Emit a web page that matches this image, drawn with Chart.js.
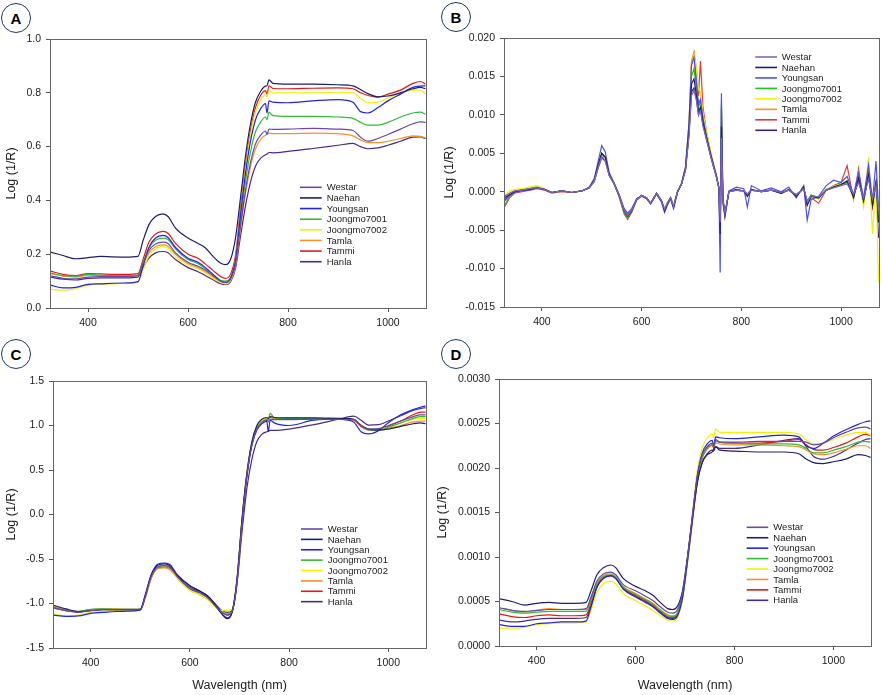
<!DOCTYPE html>
<html><head><meta charset="utf-8">
<script src="https://cdn.jsdelivr.net/npm/chart.js@4.4.1/dist/chart.umd.min.js"></script>
<style>
html,body{margin:0;padding:0;background:#fff;}
body{width:882px;height:695px;position:relative;overflow:hidden;font-family:"Liberation Sans",Arial,sans-serif;}
canvas{position:absolute;}
.badge{position:absolute;z-index:5;width:28px;height:28px;border:1.6px solid #1f3461;border-radius:50%;font:bold 15px "Liberation Sans",Arial,sans-serif;color:#000;display:flex;align-items:center;justify-content:center;box-sizing:content-box;background:#fff;}
</style></head><body>
<canvas id="cA" width="441" height="330" style="left:0;top:0"></canvas>
<canvas id="cB" width="441" height="330" style="left:441px;top:0"></canvas>
<canvas id="cC" width="441" height="365" style="left:0;top:330px"></canvas>
<canvas id="cD" width="452" height="365" style="left:430px;top:330px"></canvas>
<div class="badge" style="left:1px;top:3px">A</div>
<div class="badge" style="left:441px;top:2px">B</div>
<div class="badge" style="left:1px;top:339px">C</div>
<div class="badge" style="left:441px;top:339px">D</div>
<script>
const names = ['Westar','Naehan','Youngsan','Joongmo7001','Joongmo7002','Tamla','Tammi','Hanla'];
const colors = ['#6b48a8','#1e1e6e','#2323e0','#33bb33','#f2f200','#f5922a','#e41a1a','#4a2a8a'];
const colorsB = ['#8466b8','#1e1e7a','#4f4ff0','#22c022','#f2f200','#f5922a','#e03c3c','#3e1e80'];
const xTicks = [400,600,800,1000];
const wl = [325,350,375,400,425,450,475,500,510,522,535,550,560,575,600,620,635,650,665,675,685,695,705,715,725,735,745,755,758,762,770,800,850,900,930,945,960,980,1000,1025,1050,1065,1075];
const wlB = [325,335,345,360,375,390,405,420,440,460,480,495,505,513,520,527,535,545,555,565,572,580,590,600,610,618,630,640,646,652,658,664,672,680,688,695,700,705,710,714,718,723,730,740,750,755,757.5,760,763,767,775,790,805,812,820,840,860,880,895,910,925,932,940,955,970,985,1000,1012,1025,1035,1045,1055,1063,1070,1075];

// Panel A
const aWestar = [0.12,0.11,0.108,0.115,0.117,0.117,0.117,0.12,0.165,0.215,0.238,0.245,0.24,0.205,0.17,0.155,0.14,0.12,0.1,0.095,0.107,0.165,0.305,0.437,0.54,0.61,0.642,0.658,0.645,0.665,0.664,0.665,0.668,0.665,0.66,0.635,0.62,0.63,0.645,0.665,0.685,0.692,0.69];
const aNaehan = [0.208,0.195,0.183,0.187,0.192,0.19,0.189,0.192,0.25,0.31,0.34,0.35,0.34,0.297,0.26,0.24,0.223,0.192,0.167,0.161,0.18,0.26,0.41,0.565,0.685,0.765,0.805,0.825,0.826,0.848,0.835,0.832,0.832,0.83,0.826,0.812,0.797,0.785,0.788,0.8,0.815,0.82,0.815];
const aYoungsan = [0.085,0.075,0.077,0.088,0.09,0.092,0.093,0.098,0.155,0.225,0.26,0.27,0.262,0.225,0.185,0.17,0.15,0.125,0.1,0.095,0.11,0.175,0.345,0.5,0.62,0.7,0.74,0.76,0.725,0.77,0.765,0.763,0.77,0.775,0.765,0.73,0.725,0.745,0.77,0.795,0.82,0.825,0.826];
const aJoongmo7001 = [0.13,0.12,0.118,0.125,0.122,0.12,0.12,0.122,0.17,0.225,0.252,0.26,0.255,0.22,0.18,0.165,0.145,0.125,0.103,0.1,0.112,0.175,0.33,0.47,0.58,0.655,0.69,0.71,0.7,0.728,0.715,0.712,0.712,0.71,0.705,0.69,0.68,0.68,0.69,0.71,0.725,0.728,0.72];
const aJoongmo7002 = [0.07,0.066,0.072,0.085,0.088,0.09,0.092,0.096,0.14,0.195,0.22,0.228,0.222,0.19,0.16,0.145,0.13,0.11,0.095,0.09,0.105,0.175,0.35,0.515,0.645,0.73,0.772,0.792,0.785,0.808,0.8,0.8,0.8,0.802,0.8,0.78,0.763,0.765,0.78,0.8,0.81,0.81,0.795];
const aTamla = [0.128,0.118,0.115,0.122,0.12,0.118,0.118,0.12,0.16,0.205,0.228,0.235,0.23,0.2,0.165,0.15,0.135,0.115,0.095,0.09,0.101,0.157,0.296,0.425,0.525,0.592,0.626,0.642,0.645,0.65,0.648,0.648,0.65,0.648,0.64,0.625,0.615,0.615,0.62,0.63,0.64,0.638,0.632];
const aTammi = [0.137,0.125,0.12,0.128,0.127,0.125,0.125,0.128,0.18,0.245,0.275,0.285,0.278,0.24,0.2,0.185,0.163,0.14,0.117,0.11,0.125,0.195,0.37,0.53,0.66,0.745,0.79,0.808,0.795,0.826,0.816,0.815,0.817,0.818,0.815,0.8,0.79,0.784,0.795,0.81,0.835,0.842,0.832];
const aHanla = [0.115,0.107,0.104,0.11,0.112,0.112,0.112,0.115,0.15,0.185,0.205,0.21,0.205,0.18,0.15,0.135,0.12,0.105,0.09,0.087,0.097,0.146,0.267,0.38,0.468,0.527,0.556,0.57,0.572,0.578,0.577,0.582,0.593,0.605,0.612,0.6,0.592,0.595,0.605,0.62,0.635,0.636,0.63];

// Panel B
const bWestar = [-0.0006,-0.0002,0.0001,0.0002,0.0004,0.0005,0.0003,-0.0001,0.0001,-0.0001,0.0001,0.0005,0.0014,0.0032,0.0046,0.0040,0.0021,0.0010,-0.0005,-0.0024,-0.0031,-0.0024,-0.0010,-0.0005,-0.0008,-0.0015,-0.0002,-0.0012,-0.0023,-0.0014,-0.0008,-0.0019,0.0000,0.0010,0.0028,0.0072,0.0125,0.0132,0.0118,0.0100,0.0105,0.0085,0.0068,0.0042,0.0019,0.0005,-0.0040,0.0070,-0.0008,-0.0028,0.0000,0.0002,0.0001,-0.0003,0.0002,0.0000,0.0002,-0.0001,0.0002,-0.0004,0.0004,-0.0012,-0.0005,-0.0007,0.0002,0.0005,0.0008,0.0010,-0.0003,0.0012,-0.0008,0.0016,-0.0010,0.0008,-0.0025];
const bNaehan = [-0.0008,-0.0004,0.0000,0.0002,0.0003,0.0005,0.0003,-0.0001,0.0001,-0.0001,0.0001,0.0005,0.0015,0.0035,0.0050,0.0045,0.0022,0.0010,-0.0005,-0.0025,-0.0032,-0.0025,-0.0010,-0.0005,-0.0008,-0.0015,-0.0002,-0.0012,-0.0025,-0.0015,-0.0008,-0.0020,0.0000,0.0010,0.0030,0.0080,0.0140,0.0147,0.0125,0.0105,0.0110,0.0090,0.0070,0.0044,0.0020,0.0005,-0.0055,0.0085,-0.0010,-0.0030,0.0000,0.0003,0.0001,-0.0006,0.0003,0.0000,0.0002,-0.0002,0.0003,-0.0006,0.0006,-0.0018,-0.0006,-0.0008,0.0002,0.0006,0.0009,0.0014,-0.0008,0.0018,-0.0012,0.0022,-0.0018,0.0012,-0.0040];
const bYoungsan = [-0.0010,-0.0005,-0.0001,0.0001,0.0002,0.0005,0.0003,-0.0001,0.0001,-0.0001,0.0001,0.0006,0.0017,0.0040,0.0060,0.0052,0.0025,0.0011,-0.0004,-0.0022,-0.0028,-0.0022,-0.0009,-0.0005,-0.0009,-0.0016,-0.0003,-0.0014,-0.0027,-0.0017,-0.0009,-0.0022,-0.0001,0.0010,0.0032,0.0088,0.0165,0.0175,0.0140,0.0115,0.0120,0.0095,0.0072,0.0045,0.0020,0.0004,-0.0105,0.0128,-0.0015,-0.0032,0.0001,0.0006,0.0004,-0.0020,0.0008,0.0001,0.0005,0.0000,0.0006,-0.0008,0.0008,-0.0037,-0.0010,-0.0006,0.0008,0.0015,0.0012,0.0020,-0.0004,0.0025,-0.0008,0.0035,-0.0012,0.0040,-0.0020];
const bJoongmo7001 = [-0.0018,-0.0006,0.0000,0.0002,0.0004,0.0006,0.0003,-0.0001,0.0001,-0.0001,0.0001,0.0005,0.0015,0.0036,0.0050,0.0045,0.0022,0.0010,-0.0006,-0.0027,-0.0034,-0.0026,-0.0010,-0.0005,-0.0008,-0.0015,-0.0002,-0.0012,-0.0023,-0.0014,-0.0008,-0.0019,0.0000,0.0011,0.0030,0.0082,0.0150,0.0160,0.0135,0.0110,0.0118,0.0095,0.0072,0.0044,0.0020,0.0005,-0.0060,0.0115,-0.0010,-0.0030,0.0000,0.0002,0.0001,-0.0006,0.0002,0.0000,0.0002,-0.0001,0.0002,-0.0004,0.0004,-0.0013,-0.0004,-0.0009,0.0003,0.0006,0.0010,0.0012,-0.0006,0.0015,-0.0012,0.0020,-0.0015,0.0010,-0.0030];
const bJoongmo7002 = [-0.0005,0.0001,0.0003,0.0004,0.0006,0.0008,0.0004,-0.0001,0.0001,-0.0001,0.0001,0.0005,0.0014,0.0034,0.0047,0.0042,0.0021,0.0010,-0.0005,-0.0025,-0.0032,-0.0025,-0.0010,-0.0005,-0.0008,-0.0015,-0.0002,-0.0012,-0.0022,-0.0013,-0.0008,-0.0018,0.0000,0.0011,0.0032,0.0088,0.0165,0.0178,0.0160,0.0135,0.0130,0.0102,0.0078,0.0048,0.0021,0.0005,-0.0050,0.0080,-0.0010,-0.0032,0.0000,0.0002,0.0001,-0.0004,0.0002,0.0000,0.0003,-0.0001,0.0002,-0.0005,0.0005,-0.0015,-0.0008,-0.0009,0.0003,0.0007,0.0010,0.0015,-0.0010,0.0025,-0.0020,0.0045,-0.0055,0.0015,-0.0118];
const bTamla = [-0.0007,-0.0002,0.0001,0.0003,0.0004,0.0006,0.0003,-0.0001,0.0001,-0.0001,0.0001,0.0005,0.0014,0.0033,0.0046,0.0042,0.0021,0.0010,-0.0005,-0.0026,-0.0033,-0.0025,-0.0010,-0.0005,-0.0008,-0.0015,-0.0002,-0.0012,-0.0023,-0.0014,-0.0008,-0.0019,0.0000,0.0011,0.0032,0.0090,0.0170,0.0182,0.0160,0.0132,0.0128,0.0100,0.0076,0.0046,0.0021,0.0005,-0.0045,0.0070,-0.0010,-0.0030,0.0000,0.0002,0.0001,-0.0003,0.0002,0.0000,0.0002,-0.0001,0.0002,-0.0004,0.0004,-0.0014,-0.0005,-0.0008,0.0003,0.0006,0.0009,0.0013,-0.0006,0.0016,-0.0010,0.0020,-0.0014,0.0012,-0.0028];
const bTammi = [-0.0020,-0.0008,-0.0002,0.0000,0.0002,0.0004,0.0002,-0.0002,0.0000,-0.0001,0.0001,0.0005,0.0014,0.0034,0.0048,0.0044,0.0022,0.0010,-0.0007,-0.0029,-0.0036,-0.0027,-0.0011,-0.0006,-0.0009,-0.0016,-0.0003,-0.0013,-0.0024,-0.0015,-0.0009,-0.0020,0.0000,0.0011,0.0032,0.0088,0.0165,0.0180,0.0150,0.0125,0.0170,0.0110,0.0078,0.0046,0.0021,0.0004,-0.0070,0.0110,-0.0012,-0.0033,0.0000,0.0002,0.0000,-0.0005,0.0002,0.0000,0.0002,-0.0002,0.0002,-0.0005,0.0004,-0.0016,-0.0008,-0.0015,0.0002,0.0008,0.0012,0.0034,-0.0010,0.0030,-0.0015,0.0028,-0.0020,0.0015,-0.0035];
const bHanla = [-0.0012,-0.0005,0.0000,0.0002,0.0003,0.0005,0.0003,-0.0001,0.0001,-0.0001,0.0001,0.0005,0.0013,0.0031,0.0044,0.0040,0.0021,0.0010,-0.0005,-0.0024,-0.0031,-0.0024,-0.0010,-0.0005,-0.0008,-0.0015,-0.0002,-0.0012,-0.0023,-0.0014,-0.0008,-0.0019,0.0000,0.0010,0.0028,0.0075,0.0130,0.0135,0.0120,0.0100,0.0108,0.0088,0.0068,0.0042,0.0019,0.0005,-0.0050,0.0075,-0.0010,-0.0028,0.0000,0.0002,0.0001,-0.0003,0.0002,0.0000,0.0002,-0.0001,0.0002,-0.0004,0.0004,-0.0012,-0.0005,-0.0007,0.0002,0.0006,0.0009,0.0012,-0.0005,0.0015,-0.0010,0.0024,-0.0018,0.0010,-0.0060];

// Panel C
const cWestar = [-1.05,-1.08,-1.1,-1.08,-1.07,-1.07,-1.07,-1.07,-0.92,-0.7,-0.59,-0.575,-0.595,-0.7,-0.83,-0.88,-0.93,-1.02,-1.1,-1.13,-1.09,-0.75,-0.1,0.44,0.78,0.96,1.03,1.06,1.04,1.07,1.065,1.065,1.07,1.07,1.065,1.0,0.96,0.965,1.0,1.05,1.1,1.12,1.12];
const cNaehan = [-1.02,-1.06,-1.09,-1.08,-1.07,-1.07,-1.07,-1.065,-0.9,-0.68,-0.57,-0.555,-0.58,-0.69,-0.8,-0.86,-0.91,-1.0,-1.12,-1.17,-1.1,-0.72,-0.05,0.47,0.82,1.0,1.07,1.09,1.08,1.1,1.09,1.085,1.085,1.08,1.07,1.0,0.96,0.95,0.96,0.99,1.02,1.03,1.02];
const cYoungsan = [-1.13,-1.145,-1.14,-1.11,-1.1,-1.09,-1.085,-1.075,-0.92,-0.68,-0.56,-0.545,-0.565,-0.68,-0.8,-0.86,-0.915,-1.01,-1.12,-1.16,-1.1,-0.76,-0.1,0.43,0.78,0.95,1.02,1.05,0.93,1.06,1.03,1.0,1.06,1.07,1.04,0.93,0.905,0.94,1.03,1.12,1.18,1.205,1.22];
const cJoongmo7001 = [-1.05,-1.08,-1.09,-1.065,-1.06,-1.065,-1.065,-1.065,-0.92,-0.7,-0.59,-0.575,-0.595,-0.7,-0.83,-0.88,-0.93,-1.02,-1.1,-1.12,-1.09,-0.74,-0.08,0.45,0.8,0.97,1.04,1.07,1.065,1.14,1.085,1.08,1.08,1.075,1.07,1.0,0.95,0.945,0.98,1.03,1.08,1.1,1.1];
const cJoongmo7002 = [-1.12,-1.14,-1.13,-1.1,-1.09,-1.08,-1.075,-1.07,-0.93,-0.7,-0.59,-0.58,-0.6,-0.72,-0.85,-0.9,-0.95,-1.03,-1.08,-1.08,-1.06,-0.72,-0.05,0.47,0.81,0.98,1.05,1.075,1.07,1.12,1.085,1.075,1.075,1.075,1.07,1.01,0.955,0.95,0.98,1.03,1.07,1.08,1.075];
const cTamla = [-1.03,-1.07,-1.09,-1.07,-1.06,-1.06,-1.065,-1.065,-0.94,-0.72,-0.61,-0.6,-0.62,-0.72,-0.85,-0.9,-0.95,-1.03,-1.1,-1.12,-1.09,-0.74,-0.08,0.46,0.8,0.97,1.04,1.07,1.065,1.1,1.08,1.075,1.075,1.07,1.06,1.0,0.96,0.955,0.97,1.0,1.04,1.05,1.05];
const cTammi = [-1.04,-1.08,-1.09,-1.07,-1.065,-1.07,-1.07,-1.07,-0.93,-0.71,-0.6,-0.59,-0.61,-0.71,-0.84,-0.88,-0.94,-1.02,-1.1,-1.13,-1.09,-0.74,-0.08,0.45,0.8,0.98,1.05,1.075,1.065,1.09,1.08,1.075,1.075,1.07,1.06,0.99,0.95,0.95,0.99,1.05,1.12,1.15,1.15];
const cHanla = [-1.04,-1.07,-1.09,-1.07,-1.065,-1.065,-1.065,-1.065,-0.93,-0.71,-0.6,-0.585,-0.6,-0.7,-0.82,-0.87,-0.92,-1.0,-1.08,-1.1,-1.08,-0.78,-0.2,0.3,0.62,0.82,0.9,0.93,0.935,0.945,0.945,0.96,1.01,1.07,1.105,1.06,1.005,1.01,1.05,1.11,1.17,1.19,1.2];

// Panel D
const dWestar = [0.00043,0.0004,0.00039,0.0004,0.00041,0.00041,0.00041,0.00042,0.00055,0.00073,0.00081,0.00083,0.0008,0.00069,0.00062,0.00056,0.00051,0.00044,0.00038,0.00037,0.00041,0.0006,0.001,0.00147,0.00191,0.00215,0.00224,0.00228,0.00226,0.00232,0.00229,0.00229,0.0023,0.0023,0.0023,0.00229,0.00226,0.00228,0.00234,0.0024,0.00245,0.00246,0.00244];
const dNaehan = [0.00053,0.0005,0.00046,0.00048,0.00049,0.00048,0.00048,0.00049,0.00062,0.0008,0.00088,0.00091,0.00088,0.00076,0.00067,0.00062,0.00057,0.00049,0.00042,0.00041,0.00045,0.00062,0.001,0.00143,0.00184,0.00206,0.00215,0.00218,0.00221,0.00224,0.0022,0.00219,0.00218,0.00218,0.00216,0.0021,0.00206,0.00205,0.00207,0.0021,0.00215,0.00214,0.00212];
const dYoungsan = [0.00024,0.00022,0.00022,0.00025,0.00026,0.00027,0.00027,0.00028,0.00044,0.00066,0.00076,0.00079,0.00076,0.00064,0.00055,0.00049,0.00044,0.00037,0.00031,0.0003,0.00034,0.00054,0.00097,0.00146,0.00192,0.00217,0.00227,0.00231,0.00225,0.00235,0.00234,0.00233,0.00235,0.00237,0.00235,0.00225,0.00222,0.00228,0.00236,0.00243,0.00249,0.00252,0.00253];
const dJoongmo7001 = [0.00041,0.00038,0.00037,0.00038,0.00039,0.00039,0.00039,0.00039,0.00052,0.0007,0.00078,0.0008,0.00077,0.00066,0.00058,0.00052,0.00047,0.0004,0.00034,0.00033,0.00037,0.00056,0.00097,0.00144,0.00189,0.00212,0.00222,0.00226,0.00224,0.0023,0.00229,0.00228,0.00227,0.00227,0.00226,0.00222,0.00217,0.00217,0.0022,0.00224,0.00229,0.0023,0.00229];
const dJoongmo7002 = [0.0002,0.0002,0.00021,0.00024,0.00025,0.00026,0.00026,0.00027,0.0004,0.0006,0.0007,0.00073,0.0007,0.00059,0.00051,0.00045,0.0004,0.00034,0.00029,0.00028,0.00032,0.00053,0.00098,0.00149,0.00198,0.00223,0.00234,0.00238,0.00234,0.00244,0.0024,0.0024,0.0024,0.0024,0.00238,0.00232,0.00227,0.00228,0.00232,0.00237,0.0024,0.0024,0.00237];
const dTamla = [0.00043,0.0004,0.00038,0.0004,0.00042,0.00041,0.00041,0.00041,0.00054,0.00071,0.00079,0.00081,0.00078,0.00067,0.00059,0.00053,0.00048,0.00041,0.00035,0.00034,0.00038,0.00057,0.00098,0.00144,0.00188,0.00212,0.00221,0.00225,0.00224,0.00228,0.00227,0.00226,0.00226,0.00225,0.00224,0.0022,0.00216,0.00215,0.00217,0.00221,0.00225,0.00225,0.00222];
const dTammi = [0.00036,0.00033,0.00032,0.00034,0.00035,0.00034,0.00034,0.00035,0.00048,0.00068,0.00077,0.00079,0.00076,0.00065,0.00057,0.00051,0.00046,0.00039,0.00033,0.00032,0.00036,0.00056,0.00097,0.00144,0.00189,0.00212,0.00222,0.00226,0.00222,0.00232,0.00229,0.00228,0.00228,0.0023,0.00232,0.00226,0.00221,0.0022,0.00223,0.00228,0.00235,0.00238,0.00236];
const dHanla = [0.00029,0.00027,0.00028,0.0003,0.00031,0.00031,0.00031,0.00032,0.00045,0.00066,0.00076,0.00079,0.00076,0.00065,0.00056,0.0005,0.00045,0.00038,0.00032,0.00031,0.00035,0.00054,0.00094,0.0014,0.00184,0.00207,0.00216,0.0022,0.00219,0.00224,0.00222,0.00222,0.00226,0.00231,0.00233,0.00224,0.00213,0.0021,0.00213,0.0022,0.00228,0.00232,0.00233];

const FONT = '"Liberation Sans", Arial, sans-serif';

const framePlugin = {
  id: 'frame',
  afterDraw(chart) {
    const {ctx, chartArea: a} = chart;
    ctx.save();
    ctx.strokeStyle = '#666';
    ctx.lineWidth = 1;
    ctx.strokeRect(Math.round(a.left) + 0.5, Math.round(a.top) + 0.5, Math.round(a.right - a.left), Math.round(a.bottom - a.top));
    ctx.restore();
  }
};

const legendPlugin = {
  id: 'inLegend',
  afterDraw(chart, args, opts) {
    const {ctx} = chart;
    ctx.save();
    ctx.font = '9.5px ' + FONT;
    ctx.textBaseline = 'middle';
    ctx.textAlign = 'left';
    chart.data.datasets.forEach((ds, i) => {
      const y = opts.y0 + i * opts.dy;
      ctx.strokeStyle = ds.borderColor;
      ctx.lineWidth = 1.6;
      ctx.beginPath();
      ctx.moveTo(opts.x0, y);
      ctx.lineTo(opts.x1, y);
      ctx.stroke();
      ctx.fillStyle = '#222';
      ctx.fillText(ds.label, opts.tx, y + 0.5);
    });
    ctx.restore();
  }
};

function makeChart(id, cfg) {
  const datasets = names.map((n, i) => ({
    label: n,
    data: cfg.x.map((x, j) => ({x: x, y: cfg.ys[i][j]})),
    borderColor: cfg.colors[i],
    backgroundColor: cfg.colors[i],
    borderWidth: 1.2,
    pointRadius: 0,
    fill: false,
    tension: 0,
    cubicInterpolationMode: cfg.smooth ? 'monotone' : 'default'
  }));
  new Chart(document.getElementById(id), {
    type: 'line',
    data: {datasets},
    options: {
      responsive: false,
      animation: false,
      devicePixelRatio: 1,
      events: [],
      layout: {padding: {left: 0, top: cfg.padT, right: cfg.padR, bottom: 0}},
      plugins: {legend: {display: false}, tooltip: {enabled: false}, inLegend: cfg.leg},
      scales: {
        x: {
          type: 'linear', min: 324, max: 1076,
          afterBuildTicks: s => { s.ticks = xTicks.map(v => ({value: v})); },
          afterFit: s => { s.height = cfg.xH; },
          ticks: {font: {family: FONT, size: 10.5}, color: '#222', padding: 5, maxRotation: 0, callback: v => String(v)},
          grid: {drawOnChartArea: false, drawTicks: true, tickLength: 4, color: '#555'},
          border: {color: '#555'},
          title: {display: !!cfg.xTitle, text: 'Wavelength (nm)', color: '#222', font: {family: FONT, size: 12.5}, padding: {top: 0, bottom: 2}}
        },
        y: {
          min: cfg.ymin, max: cfg.ymax,
          afterFit: s => { s.width = cfg.yW; },
          ticks: {stepSize: cfg.step, font: {family: FONT, size: 10.5}, color: '#222', padding: 5,
            callback: v => { if (Math.abs(v) < 1e-12) v = 0; return v.toFixed(cfg.dec); }},
          grid: {drawOnChartArea: false, drawTicks: true, tickLength: 4, color: '#555'},
          border: {color: '#555'},
          title: {display: true, text: 'Log (1/R)', color: '#222', font: {family: FONT, size: 12.5}, padding: {top: cfg.ytPad, bottom: 0}}
        }
      }
    },
    plugins: [framePlugin, legendPlugin]
  });
}

makeChart('cA', {x: wl, smooth: true, colors: colors,
  ys: [aWestar, aNaehan, aYoungsan, aJoongmo7001, aJoongmo7002, aTamla, aTammi, aHanla],
  ymin: 0, ymax: 1, step: 0.2, dec: 1, yW: 50, padT: 39, padR: 15, xH: 22, ytPad: 4, xTitle: false,
  leg: {x0: 300, x1: 321.7, tx: 326.7, y0: 187.3, dy: 10.63}});
makeChart('cB', {x: wlB, smooth: false, colors: colorsB,
  ys: [bWestar, bNaehan, bYoungsan, bJoongmo7001, bJoongmo7002, bTamla, bTammi, bHanla],
  ymin: -0.015, ymax: 0.02, step: 0.005, dec: 3, yW: 63, padT: 38, padR: 3, xH: 23, ytPad: 1, xTitle: false,
  leg: {x0: 314.3, x1: 336, tx: 340.7, y0: 57, dy: 10.47}});
makeChart('cC', {x: wl, smooth: true, colors: colors,
  ys: [cWestar, cNaehan, cYoungsan, cJoongmo7001, cJoongmo7002, cTamla, cTammi, cHanla],
  ymin: -1.5, ymax: 1.5, step: 0.5, dec: 1, yW: 53, padT: 51, padR: 15, xH: 47, ytPad: 4, xTitle: true,
  leg: {x0: 301, x1: 322.7, tx: 327.7, y0: 199, dy: 10.38}});
makeChart('cD', {x: wl, smooth: true, colors: colors,
  ys: [dWestar, dNaehan, dYoungsan, dJoongmo7001, dJoongmo7002, dTamla, dTammi, dHanla],
  ymin: 0, ymax: 0.003, step: 0.0005, dec: 4, yW: 69, padT: 49, padR: 11, xH: 49, ytPad: 5.5, xTitle: true,
  leg: {x0: 316.7, x1: 338.3, tx: 343.3, y0: 197.3, dy: 10.43}});
</script>
</body></html>
